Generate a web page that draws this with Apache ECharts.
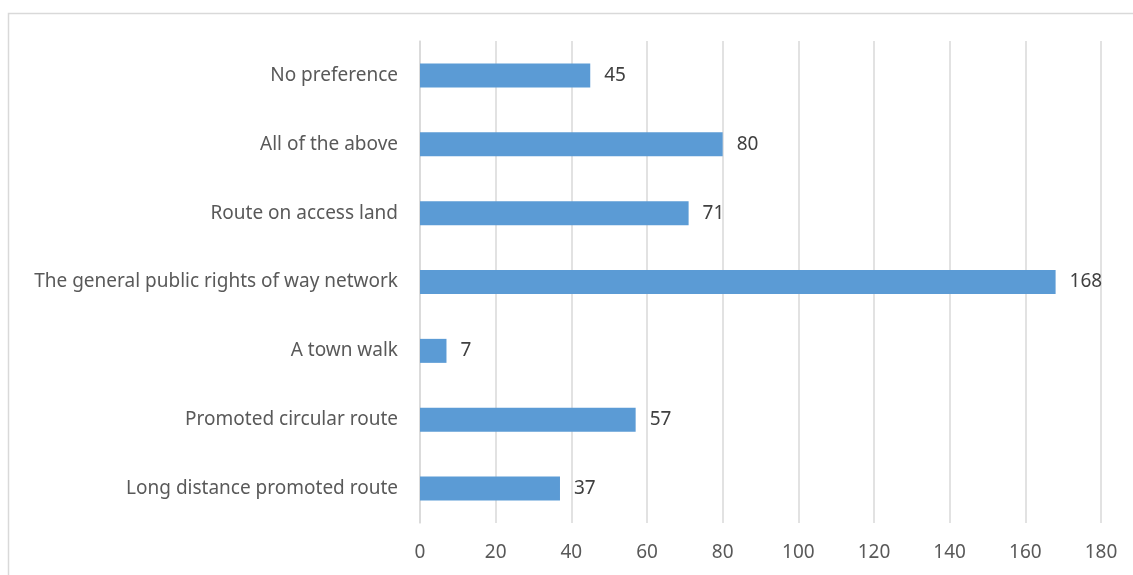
<!DOCTYPE html>
<html>
<head>
<meta charset="utf-8">
<script src="https://cdn.jsdelivr.net/npm/echarts@6/dist/echarts.min.js"></script>
<style>
  html, body { margin: 0; padding: 0; background: #fff; }
  #chart { width: 1133px; height: 575px; }
</style>
</head>
<body>
<div id="chart"></div>
<script>
// Route preference responses, listed bottom to top
const categories = [
  'Long distance promoted route',
  'Promoted circular route',
  'A town walk',
  'The general public rights of way network',
  'Route on access land',
  'All of the above',
  'No preference'
];
const responses = [37, 57, 7, 168, 71, 80, 45];
const xTicks = [0, 20, 40, 60, 80, 100, 120, 140, 160, 180];

const font = '"Noto Sans", "Open Sans", sans-serif';
const chart = echarts.init(document.getElementById('chart'));

chart.setOption({
  animation: false,
  backgroundColor: '#ffffff',
  graphic: [
    {
      type: 'polyline',
      shape: { points: [[8.5, 575], [8.5, 13.5], [1133, 13.5]] },
      style: { stroke: '#d9d9d9', lineWidth: 1.5, fill: null },
      silent: true
    }
  ],
  grid: { left: 420, right: 32, top: 41, bottom: 52, containLabel: false },
  xAxis: {
    type: 'value',
    min: xTicks[0],
    max: xTicks[xTicks.length - 1],
    interval: xTicks[1] - xTicks[0],
    axisLine: { show: false },
    axisTick: { show: false },
    splitLine: { show: true, lineStyle: { color: '#d9d9d9', width: 1.5 } },
    axisLabel: { color: '#595959', fontFamily: font, fontSize: 19, margin: 20 }
  },
  yAxis: {
    type: 'category',
    data: categories,
    axisLine: { show: true, lineStyle: { color: '#d9d9d9', width: 1.5 } },
    axisTick: { show: false },
    axisLabel: { color: '#595959', fontFamily: font, fontSize: 19, margin: 22 }
  },
  series: [
    {
      type: 'bar',
      data: responses,
      barWidth: 24,
      itemStyle: { color: '#5b9bd5' },
      label: {
        show: true,
        position: 'right',
        distance: 14,
        color: '#404040',
        fontFamily: font,
        fontSize: 19
      }
    }
  ]
});
</script>
</body>
</html>
